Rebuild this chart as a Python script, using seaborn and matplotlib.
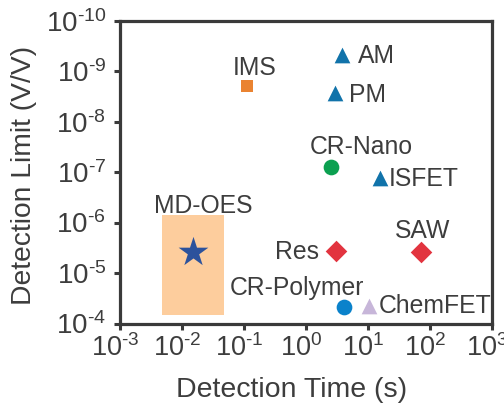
import matplotlib
matplotlib.use("Agg")
import matplotlib.pyplot as plt
import matplotlib.transforms as mtransforms
import seaborn as sns
import pandas as pd
from matplotlib.patches import Rectangle

# Sensor technologies: detection time (s) and detection limit (V/V)
names = ["IMS", "AM", "PM", "CR-Nano", "ISFET", "MD-OES", "Res", "SAW", "CR-Polymer", "ChemFET"]
times = [0.11, 3.85, 2.95, 2.5, 15.4, 0.0152, 3.05, 71.0, 4.1, 10.2]
limits = [1.95e-9, 4.8e-10, 2.75e-9, 8.0e-8, 1.3e-7, 3.9e-6, 3.7e-6, 3.8e-6, 4.7e-5, 4.4e-5]

# MD-OES operating range (time span, limit span)
range_time = [0.0047, 0.047]
range_limit = [7.0e-7, 6.9e-5]

x_exps = [-3, -2, -1, 0, 1, 2, 3]
y_exps = [-10, -9, -8, -7, -6, -5, -4]
x_ticks = [10.0 ** e for e in x_exps]
y_ticks = [10.0 ** e for e in y_exps]
x_ticklabels = [r"$10^{\text{%d}}$" % e for e in x_exps]
y_ticklabels = [r"$10^{\text{%d}}$" % e for e in y_exps]

markers = ["s", "^", "^", "o", "^", "*", "D", "D", "o", "^"]
colors = ["#EA8331", "#1173AA", "#1173AA", "#0CA050", "#1173AA", "#2C529C",
          "#E2343F", "#E2343F", "#0A82CB", "#C7B6D9"]
sizes = [8, 11.3, 11.3, 11.3, 11.3, 22.5, 11, 11, 11.3, 11.3]

# label placement: offset in points from the marker, horizontal alignment
label_pos = {
    "IMS": (5.5, 7.5, "center"),
    "AM": (11.5, -5.5, "left"),
    "PM": (10.3, -6.2, "left"),
    "CR-Nano": (22.3, 9.4, "center"),
    "ISFET": (6.9, -5.8, "left"),
    "MD-OES": (7.2, 28.2, "center"),
    "Res": (-12.2, -5.7, "right"),
    "SAW": (1.2, 9.8, "center"),
    "CR-Polymer": (-34.0, 8.6, "center"),
    "ChemFET": (7.6, -5.7, "left"),
}

df = pd.DataFrame({"name": names, "time": times, "limit": limits})

sns.set_style("white")
ink = "#3d3d3d"
plt.rcParams["font.family"] = ["Liberation Sans", "DejaVu Sans"]
plt.rcParams["mathtext.fontset"] = "custom"
plt.rcParams["mathtext.rm"] = "Liberation Sans"
plt.rcParams["mathtext.it"] = "Liberation Sans:italic"
plt.rcParams["mathtext.bf"] = "Liberation Sans:bold"

fig = plt.figure(figsize=(5.04, 4.08), dpi=100)
ax = fig.add_axes([120 / 504, 1 - 323.5 / 408, 372 / 504, 302.8 / 408])

ax.add_patch(Rectangle((range_time[0], range_limit[0]),
                       range_time[1] - range_time[0], range_limit[1] - range_limit[0],
                       facecolor="#FDCD9D", edgecolor="none", zorder=1))

for i, row in df.iterrows():
    sns.scatterplot(x=[row["time"]], y=[row["limit"]], ax=ax, marker=markers[i],
                    color=colors[i], s=sizes[i] ** 2, linewidth=0, zorder=3, legend=False)
    dx, dy, ha = label_pos[row["name"]]
    ax.annotate(row["name"], (row["time"], row["limit"]), xytext=(dx, dy),
                textcoords="offset points", ha=ha, va="baseline",
                fontsize=17.8, color=ink)

ax.set_xscale("log")
ax.set_yscale("log")
ax.set_xlim(1e-3, 1e3)
ax.set_ylim(1e-4, 1e-10)
ax.set_xticks(x_ticks)
ax.set_xticklabels(x_ticklabels)
ax.set_yticks(y_ticks)
ax.set_yticklabels(y_ticklabels)
ax.minorticks_off()

ax.set_xlabel("Detection Time (s)", fontsize=20.5, color=ink)
ax.set_ylabel("Detection Limit (V/V)", fontsize=20.3, color=ink)
ax.xaxis.set_label_coords(0.462, -0.178)
ax.yaxis.set_label_coords(-0.222, 0.49)

ax.tick_params(axis="both", which="major", direction="out", length=4.5, width=2.2,
               color="#3a3a3a", labelcolor=ink, bottom=True, left=True)
ax.tick_params(axis="x", labelsize=19.5, pad=3)
ax.tick_params(axis="y", labelsize=20, pad=5.5)

# nudge the time-axis labels slightly left of their ticks
shift = mtransforms.ScaledTranslation(-5 / 100, 0, fig.dpi_scale_trans)
for tick in ax.xaxis.get_major_ticks():
    tick.label1.set_transform(tick.label1.get_transform() + shift)

for s in ax.spines.values():
    s.set_linewidth(2.3)
    s.set_color("#3a3a3a")

fig.savefig("out.png", dpi=100)
